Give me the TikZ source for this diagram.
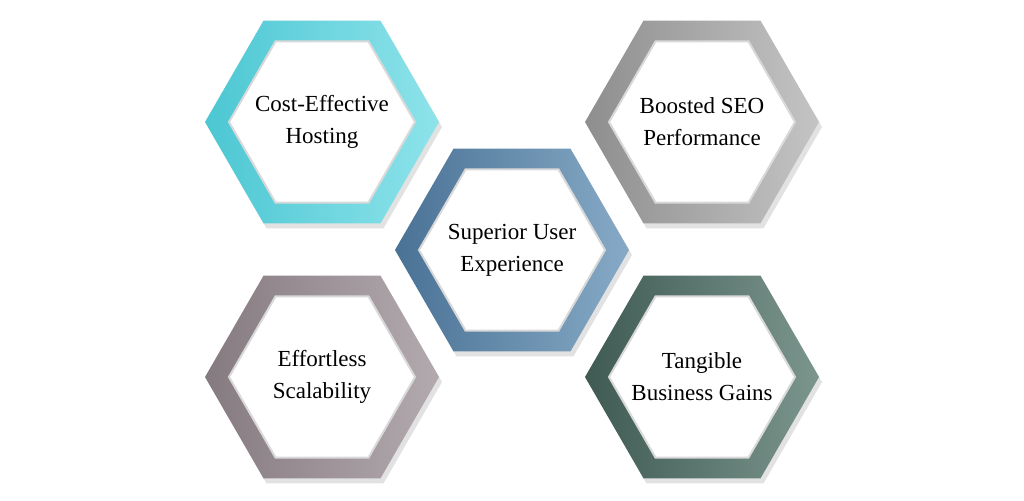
\documentclass[tikz,border=0pt]{standalone}
\usepackage{fontspec}
\setmainfont{Liberation Serif}
\usetikzlibrary{shapes.geometric}
\definecolor{tealA}{HTML}{8EE3EA}
\definecolor{tealB}{HTML}{4CC7D3}
\definecolor{greyA}{HTML}{C4C4C4}
\definecolor{greyB}{HTML}{8E8E8E}
\definecolor{blueA}{HTML}{86AAC6}
\definecolor{blueB}{HTML}{4A7295}
\definecolor{mauveA}{HTML}{B3AAAF}
\definecolor{mauveB}{HTML}{857A80}
\definecolor{mossA}{HTML}{7C968E}
\definecolor{mossB}{HTML}{3E5A52}
\definecolor{shadowgrey}{HTML}{E2E2E2}
\begin{document}
\begin{tikzpicture}[x=1pt,y=-1pt,
          hexa/.style={regular polygon,regular polygon sides=6,inner sep=0pt},
          ring/.style={hexa,minimum size=234},
          shade/.style={hexa,fill=shadowgrey,minimum size=234},
          core/.style={hexa,minimum size=186,fill=white,draw=black!15,line width=2pt},
          lab/.style={align=center,font=\fontsize{23}{32}\selectfont}
        ]
        \useasboundingbox[fill=white] (0,0) rectangle (1024,500);

        %shadows and rings
        \foreach \px/\py in {322/122,702/122,512/250,322/377,702/377}
          \node[shade] at (\px+3,\py+5) {};
        \node[ring,left color=tealB,right color=tealA] (cost) at (322,122) {};
        \node[ring,left color=greyB,right color=greyA] (seo) at (702,122) {};
        \node[ring,left color=blueB,right color=blueA] (user) at (512,250) {};
        \node[ring,left color=mauveB,right color=mauveA] (scale) at (322,377) {};
        \node[ring,left color=mossB,right color=mossA] (gains) at (702,377) {};

        %inner hexagons and labels
        \foreach \hx in {cost,seo,user,scale,gains}
          \node[core] (\hx in) at (\hx) {};
        \node[lab] (costlab) at (cost) {Cost-Effective\\Hosting};
        \node[lab] (seolab) at (seo) {Boosted SEO\\Performance};
        \node[lab] (userlab) at (user) {Superior User\\Experience};
        \node[lab] (scalelab) at (scale) {Effortless\\Scalability};
        \node[lab] (gainslab) at (gains) {Tangible\\Business Gains};
\end{tikzpicture}
\end{document}
